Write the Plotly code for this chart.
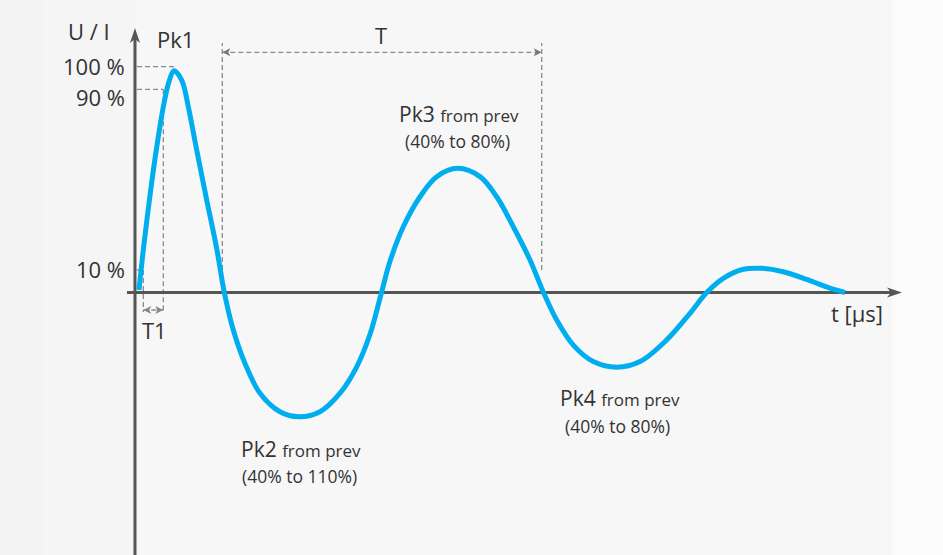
import plotly.graph_objects as go

# ---------------- data ----------------
t_us = [0.40, 0.83, 1.57, 2.23, 2.90, 3.40, 3.90, 4.67, 5.33, 6.17, 7.17, 8.17, 8.93,
        9.83, 11.00, 12.50, 14.50, 16.40, 18.50, 20.50, 22.17, 23.50, 24.65,
        25.50, 26.83, 28.50, 30.17, 32.27, 34.50, 36.17, 37.83, 39.50, 40.85,
        42.17, 43.83, 45.83, 48.17, 50.50, 53.17, 55.50, 57.17, 58.83, 60.83,
        62.67, 64.83, 67.17, 69.50, 71.00]
u_pct = [1.1, 18.8, 45.4, 66.1, 83.8, 93.4, 98.2, 94.1, 82.3, 63.1, 41.0, 19.5, 0.0,
         -16.6, -31.4, -44.6, -52.8, -55.0, -52.8, -44.6, -32.9, -18.5, 0.0,
         13.8, 29.1, 42.4, 51.3, 55.0, 51.3, 42.4, 29.1, 14.4, 0.0,
         -12.2, -23.3, -30.6, -33.1, -30.6, -21.0, -9.2, 0.0, 6.3, 10.3,
         10.7, 9.2, 5.8, 1.9, 0.0]

level_pct = [100, 90, 10]
level_labels = ["100 %", "90 %", "10 %"]
level_ends_t = [4.0, 2.83, 0.83]          # where each level guide meets the curve
t1_bounds = [0.83, 2.83]
period_bounds = [8.73, 40.67]

peak_names = ["Pk2", "Pk3", "Pk4"]
peak_ranges = ["(40% to 110%)", "(40% to 80%)", "(40% to 80%)"]

# ---------------- geometry helpers ----------------
W, H = 943, 555
X0_PX, Y0_PX = 135, 292.5
PX_PER_T, PX_PER_PCT = 10.0, 2.258


def tx(px):
    return (px - X0_PX) / PX_PER_T


def vy(py):
    return (Y0_PX - py) / PX_PER_PCT


AXIS = "#555555"
GUIDE = "#8a8a8a"
TXT = "#333333"
FONT = "Open Sans"

shapes = []
# background bands
shapes += [
    dict(type="rect", xref="paper", yref="paper", x0=0, x1=43 / W, y0=0, y1=1,
         fillcolor="#f3f3f3", line=dict(width=0), layer="below"),
    dict(type="rect", xref="paper", yref="paper", x0=43 / W, x1=135 / W, y0=0, y1=1,
         fillcolor="#f5f5f5", line=dict(width=0), layer="below"),
    dict(type="rect", xref="paper", yref="paper", x0=892 / W, x1=1, y0=0, y1=1,
         fillcolor="#fbfbfb", line=dict(width=0), layer="below"),
]

dash = "5px,3px"
gl = dict(color=GUIDE, width=1.3, dash=dash)
# level guides
for lv, te in zip(level_pct, level_ends_t):
    shapes.append(dict(type="line", x0=tx(137), x1=te, y0=lv, y1=lv, line=gl, layer="below"))
# T1 verticals
for tb, lv in zip(t1_bounds, [10, 90]):
    shapes.append(dict(type="line", x0=tb, x1=tb, y0=lv, y1=vy(312), line=gl, layer="below"))
# T1 arrow line
shapes.append(dict(type="line", x0=t1_bounds[0], x1=t1_bounds[1], y0=vy(310), y1=vy(310),
                   line=gl, layer="below"))
# T verticals and arrow line
for tb in period_bounds:
    shapes.append(dict(type="line", x0=tb, x1=tb, y0=10, y1=vy(43), line=gl, layer="below"))
shapes.append(dict(type="line", x0=period_bounds[0], x1=period_bounds[1], y0=vy(52.3), y1=vy(52.3),
                   line=gl, layer="below"))

# axes
shapes.append(dict(type="line", x0=0, x1=0, y0=vy(560), y1=vy(36), line=dict(color=AXIS, width=3), layer="below"))
shapes.append(dict(type="line", x0=tx(127), x1=tx(893), y0=0, y1=0, line=dict(color=AXIS, width=3), layer="below"))


def head(xa, ya, path, color):
    return dict(type="path", xsizemode="pixel", ysizemode="pixel", xanchor=xa, yanchor=ya,
                path=path, fillcolor=color, line=dict(width=0), layer="below")


# axis arrowheads (path in pixels, y up)
shapes.append(head(0, vy(28), "M0,0 L-5,-15 L0,-11 L5,-15 Z", AXIS))
shapes.append(head(tx(902), 0, "M0,0 L-15,5 L-11,0 L-15,-5 Z", AXIS))
# guide arrowheads
small_l = "M0,0 L8,4 L6,0 L8,-4 Z"
small_r = "M0,0 L-8,4 L-6,0 L-8,-4 Z"
shapes.append(head(period_bounds[0], vy(52.3), small_l, "#777777"))
shapes.append(head(period_bounds[1], vy(52.3), small_r, "#777777"))
shapes.append(head(t1_bounds[0], vy(310), small_l, "#888888"))
shapes.append(head(t1_bounds[1], vy(310), small_r, "#888888"))

fig = go.Figure()
fig.add_trace(go.Scatter(x=t_us, y=u_pct, mode="lines",
                         line=dict(color="#00aeef", width=5, shape="spline", smoothing=1.0),
                         hoverinfo="skip", showlegend=False))

ann = []


def text(x, y, s, size, xanchor="center"):
    ann.append(dict(x=x, y=y, text=s, showarrow=False, xanchor=xanchor, yanchor="middle",
                    font=dict(family=FONT, size=size, color=TXT)))


text(tx(89), vy(31), "U / I", 22)
text(tx(175), vy(39), "Pk1", 22)
for lv, lab, ypx in zip(level_pct, level_labels, [65.5, 97, 268.5]):
    text(tx(127), vy(ypx), lab, 22, xanchor="right")
text(tx(154.5), vy(330), "T1", 22)
text(tx(381), vy(34.5), "T", 22)
text(tx(856.5), vy(312.5), "t [µs]", 22)

peak_pos = [((300.5, 449), (299.5, 475.5)), ((458.5, 114), (457.5, 140.5)), ((620, 398), (617.5, 425.5))]
for name, rng, (p1, p2) in zip(peak_names, peak_ranges, peak_pos):
    text(tx(p1[0]), vy(p1[1]), f"{name} <span style='font-size:17px'>from prev</span>", 21)
    text(tx(p2[0]), vy(p2[1]), rng, 17.5)

fig.update_layout(
    width=W, height=H, margin=dict(l=0, r=0, t=0, b=0),
    paper_bgcolor="#f7f7f7", plot_bgcolor="rgba(0,0,0,0)",
    xaxis=dict(visible=False, range=[tx(0), tx(W)], fixedrange=True),
    yaxis=dict(visible=False, range=[vy(H), vy(0)], fixedrange=True),
    shapes=shapes, annotations=ann, showlegend=False,
)
fig.write_html("out.html", config=dict(displayModeBar=False),
               post_script="document.body.style.margin='0px';document.body.style.background='#f7f7f7';")
